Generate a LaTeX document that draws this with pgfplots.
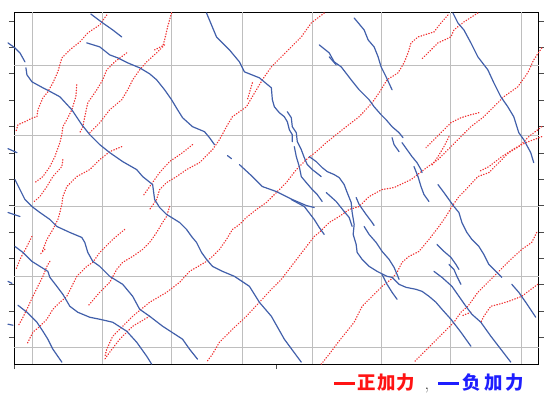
\documentclass[border=0pt]{standalone}
\usepackage{pgfplots}
\pgfplotsset{compat=1.18}
\usepackage{fontspec}
\newfontfamily\cjk{Noto Sans CJK SC}
\definecolor{bline}{RGB}{65,95,170}
\definecolor{rline}{RGB}{240,50,50}
\definecolor{gridc}{RGB}{190,190,190}
\definecolor{legred}{RGB}{255,20,20}
\definecolor{legblue}{RGB}{30,30,255}
\pgfplotsset{
  bl/.style={bline, line width=1.2pt, mark=none, line join=round, line cap=round},
  rl/.style={rline, line width=1.3pt, mark=none, line cap=round, dash pattern=on 0.5pt off 2.2pt},
}
\newcommand{\cb}[2]{\makebox[#1][c]{#2}}
\begin{document}
\begin{tikzpicture}
\begin{axis}[
  scale only axis, width=526pt, height=353pt,
  xmin=14, xmax=540, ymin=12, ymax=365, y dir=reverse,
  clip=false,
  axis line style={black, line width=0.9pt},
  xtick={14,277}, xticklabels={}, xtick pos=bottom,
  ytick={21,47.4,73.9,100.3,126.8,153.2,179.6,206.1,232.5,259.0,285.4,311.8,338.3},
  yticklabels={}, ytick pos=both,
  tick align=outside, major tick length=5pt,
  tick style={black!70, line width=0.6pt},
  extra x ticks={33,103,172,243,313,382,452,523}, extra x tick labels={},
  extra x tick style={grid=major, major tick length=0pt},
  extra y ticks={66,136,207,277,348}, extra y tick labels={},
  extra y tick style={grid=major, major tick length=0pt},
  grid style={gridc, line width=1pt},
]
\path (axis cs:0,0) rectangle (axis cs:544,394);
% ---------------- red (positive) ----------------
\addplot[rl] coordinates {(107,15)(100,25)(88,33)(80,42)(70,50)(62,58)(60,65)(58,72)(53,83)(48,92)(43,98)(38,110)(37,117)(33,118)(25,122)(18,125)(16,132)};
\addplot[rl] coordinates {(77,85)(76,97)(72,110)(67,120)(63,127)(62,135)(60,143)(55,157)(50,167)(43,177)(35,183)};
\addplot[rl] coordinates {(127,53)(115,62)(107,70)(103,80)(97,90)(88,103)(85,117)(83,127)(80,133)};
\addplot[rl] coordinates {(172,13)(168,27)(165,40)(163,47)(157,53)(147,62)(140,70)(133,80)(128,90)(122,100)(110,110)(100,123)(90,133)};
\addplot[rl] coordinates {(165,45)(155,50)};
\addplot[rl] coordinates {(122,147)(110,152)(100,160)(90,170)(77,177)(67,187)(63,197)(62,205)(60,213)(58,220)(53,230)(47,240)(42,253)};
\addplot[rl] coordinates {(63,160)(62,167)(53,177)(47,187)(40,197)(33,203)};
\addplot[rl] coordinates {(193,145)(183,153)(170,162)(160,173)(150,187)(143,197)};
\addplot[rl] coordinates {(325,13)(312,23)(302,37)(292,47)(282,57)(272,67)(263,80)(257,90)(247,107)(233,117)(227,127)(220,140)(213,150)(200,163)(187,170)(177,177)(167,183)(160,190)(157,200)(150,210)};
\addplot[rl] coordinates {(253,83)(248,100)};
\addplot[rl] coordinates {(170,207)(167,217)(163,223)(157,233)(150,243)(143,250)(133,257)(123,263)(117,270)(110,283)(100,293)(88,307)};
\addplot[rl] coordinates {(125,230)(113,240)(100,253)(93,263)(87,267)(77,277)(72,287)(67,297)(60,303)(53,310)(47,320)(40,327)(33,333)(27,345)};
\addplot[rl] coordinates {(32,237)(27,247)(20,260)(16,270)};
\addplot[rl] coordinates {(50,262)(47,267)(43,277)(38,287)(33,297)(27,310)(22,320)(18,327)};
\addplot[rl] coordinates {(45,250)(40,255)};
\addplot[rl] coordinates {(449,15)(442,23)(435,32)(419,37)(412,43)(409,53)(405,63)(399,73)(388,80)(380,93)(373,103)(360,117)(347,127)(337,135)(327,143)(317,152)(307,160)(297,170)(287,183)(277,193)(267,203)(257,210)(247,218)(240,225)(233,230)(227,240)(220,250)(213,257)(207,262)(197,268)(190,272)(180,283)(167,293)(150,303)(133,317)(123,327)(113,337)(107,350)(105,358)};
\addplot[rl] coordinates {(543,48)(535,60)(529,73)(519,87)(505,97)(495,107)(485,117)(472,127)(459,140)(449,150)(439,160)(429,167)(412,180)(395,188)(383,190)(370,197)(360,207)(350,210)(340,217)(330,223)(320,233)(315,237)(305,250)(292,267)(282,280)(272,290)(260,303)(247,317)(233,330)(220,343)(213,355)(207,363)};
\addplot[rl] coordinates {(150,317)(133,327)(120,340)(110,353)(105,360)};
\addplot[rl] coordinates {(479,13)(465,22)(455,30)(452,37)(439,43)(429,53)(422,60)};
\addplot[rl] coordinates {(480,113)(472,115)(462,118)(452,123)(442,133)(435,140)(427,148)};
\addplot[rl] coordinates {(450,137)(445,147)(439,157)(432,167)};
\addplot[rl] coordinates {(543,127)(530,137)(520,147)(510,153)(500,163)(490,173)(479,177)(467,190)(460,197)(453,207)(447,217)(440,227)(430,240)(420,252)(410,257)(403,263)(398,273)(392,280)(383,287)(373,297)(363,307)(355,323)(339,343)(330,355)(322,365)};
\addplot[rl] coordinates {(543,137)(527,143)(517,148)(503,157)(490,167)(480,172)};
\addplot[rl] coordinates {(538,233)(533,243)(523,250)(512,260)(502,270)(489,283)(479,293)(469,307)(462,313)(455,323)(445,333)(435,343)(425,353)(415,363)};
\addplot[rl] coordinates {(539,285)(523,297)(510,302)(500,305)(492,307)(485,317)(482,323)};
\addplot[rl] coordinates {(472,313)(462,317)};
% ---------------- blue (negative) ----------------
\addplot[bl] coordinates {(8,43)(15,48)(20,53)(25,62)};
\addplot[bl] coordinates {(26,68)(27,75)(32,82)(43,88)(47,90)(60,97)(72,110)(82,125)(90,135)(100,145)(110,153)(123,162)(137,170)(143,177)(153,185)(155,200)(160,208)(167,215)(172,218)(180,223)(187,230)(192,237)(197,243)(202,253)(207,260)(213,267)(223,272)(235,277)(250,287)(260,303)(272,317)(285,340)(302,363)};
\addplot[bl] coordinates {(8,149)(17,153)};
\addplot[bl] coordinates {(91,14)(103,23)(113,30)(122,37)};
\addplot[bl] coordinates {(87,43)(100,47)(110,55)(118,58)(128,63)(140,68)(150,74)(157,80)(165,90)(172,100)(178,110)(183,118)(193,127)(205,132)(210,138)(215,145)};
\addplot[bl] coordinates {(228,156)(232,159)};
\addplot[bl] coordinates {(240,165)(253,177)(263,187)(277,192)(293,200)(307,206)(315,208)};
\addplot[bl] coordinates {(207,13)(217,37)(230,50)(240,62)(245,72)(260,78)(272,88)(273,100)(275,107)(280,113)(285,117)(288,122)(290,130)(293,135)(293,142)};
\addplot[bl] coordinates {(295,147)(297,157)(300,167)(302,177)(307,183)(313,190)(318,195)(323,202)};
\addplot[bl] coordinates {(288,112)(292,118)(293,127)(297,133)(298,142)(302,150)(305,158)(308,165)(313,170)(317,173)(322,177)};
\addplot[bl] coordinates {(310,157)(317,162)(323,168)(328,172)(335,175)(340,178)(345,185)(348,193)(352,203)(353,213)(355,225)(354,235)(357,245)(358,253)(363,260)(370,267)(378,272)(388,277)(393,278)(400,285)(407,288)(417,290)(423,292)(430,297)(437,303)(443,310)(452,320)(462,333)(472,347)};
\addplot[bl] coordinates {(327,193)(337,202)(345,212)(350,218)(353,227)};
\addplot[bl] coordinates {(357,198)(360,205)(367,215)(373,223)(375,226)};
\addplot[bl] coordinates {(292,200)(305,207)(315,220)(320,228)(325,235)};
\addplot[bl] coordinates {(365,227)(370,235)(377,243)(383,252)(390,260)(395,268)(398,275)(400,280)};
\addplot[bl] coordinates {(383,275)(388,285)(393,293)(398,300)};
\addplot[bl] coordinates {(355,18)(365,30)(369,40)(375,47)(379,57)(382,67)(387,77)(393,90)};
\addplot[bl] coordinates {(320,45)(330,53)(335,62)(342,67)(352,80)(360,90)(370,100)(375,107)(382,115)(387,120)(393,127)(400,133)(404,138)};
\addplot[bl] coordinates {(330,57)(337,65)};
\addplot[bl] coordinates {(393,138)(395,145)(400,152)};
\addplot[bl] coordinates {(403,143)(408,150)(413,157)(418,163)(422,170)(423,173)};
\addplot[bl] coordinates {(415,167)(419,177)(422,187)(425,195)(430,202)};
\addplot[bl] coordinates {(454,13)(459,23)(465,30)(472,43)(479,57)(489,70)(495,83)(502,97)(509,107)(515,117)(520,133)(525,140)(532,153)(535,163)};
\addplot[bl] coordinates {(439,185)(445,193)(450,200)(455,207)(460,213)(463,223)(468,233)(473,240)(480,247)(485,255)(490,265)(503,278)};
\addplot[bl] coordinates {(438,245)(445,252)(452,258)(457,265)(460,270)};
\addplot[bl] coordinates {(450,265)(455,270)(458,277)(462,285)};
\addplot[bl] coordinates {(435,272)(443,278)(453,287)(460,297)(467,307)(473,315)(482,323)(492,337)(502,350)(512,363)};
\addplot[bl] coordinates {(513,285)(520,293)(527,303)(537,318)};
\addplot[bl] coordinates {(8,213)(20,217)};
\addplot[bl] coordinates {(15,180)(20,190)(25,200)(32,207)(40,213)(50,220)(57,227)(70,233)(82,238)(85,243)(88,253)(93,262)(100,267)(110,277)(123,285)(133,297)(140,310)(150,317)(163,327)(183,340)(190,350)(198,360)};
\addplot[bl] coordinates {(15,247)(23,253)(32,262)(40,267)(48,272)(50,278)(57,287)(63,295)(70,307)(78,313)(90,318)(100,320)(113,323)(127,332)(137,343)(147,357)(152,365)};
\addplot[bl] coordinates {(8,282)(12,284)};
\addplot[bl] coordinates {(18,306)(27,313)(37,323)(43,332)(48,340)(53,350)(62,363)};
\addplot[bl] coordinates {(8,325)(13,326)};
% legend text
\node[anchor=base west, inner sep=0pt, font=\fontsize{18.5}{20}\selectfont] at (axis cs:335,390)
  {\textcolor{legred}{\rule[4.4pt]{21pt}{2.4pt}\hspace{2pt}{\cjk\bfseries\cb{19.5pt}{正}\cb{19.5pt}{加}\cb{19.5pt}{力}}}\hspace{9pt}\textcolor{black!80}{,}\hspace{9pt}\textcolor{legblue}{\rule[4.4pt]{21pt}{2.4pt}\hspace{2pt}{\cjk\bfseries\cb{21.5pt}{负}\cb{21.5pt}{加}\cb{21.5pt}{力}}}};
\end{axis}
\end{tikzpicture}
\end{document}
